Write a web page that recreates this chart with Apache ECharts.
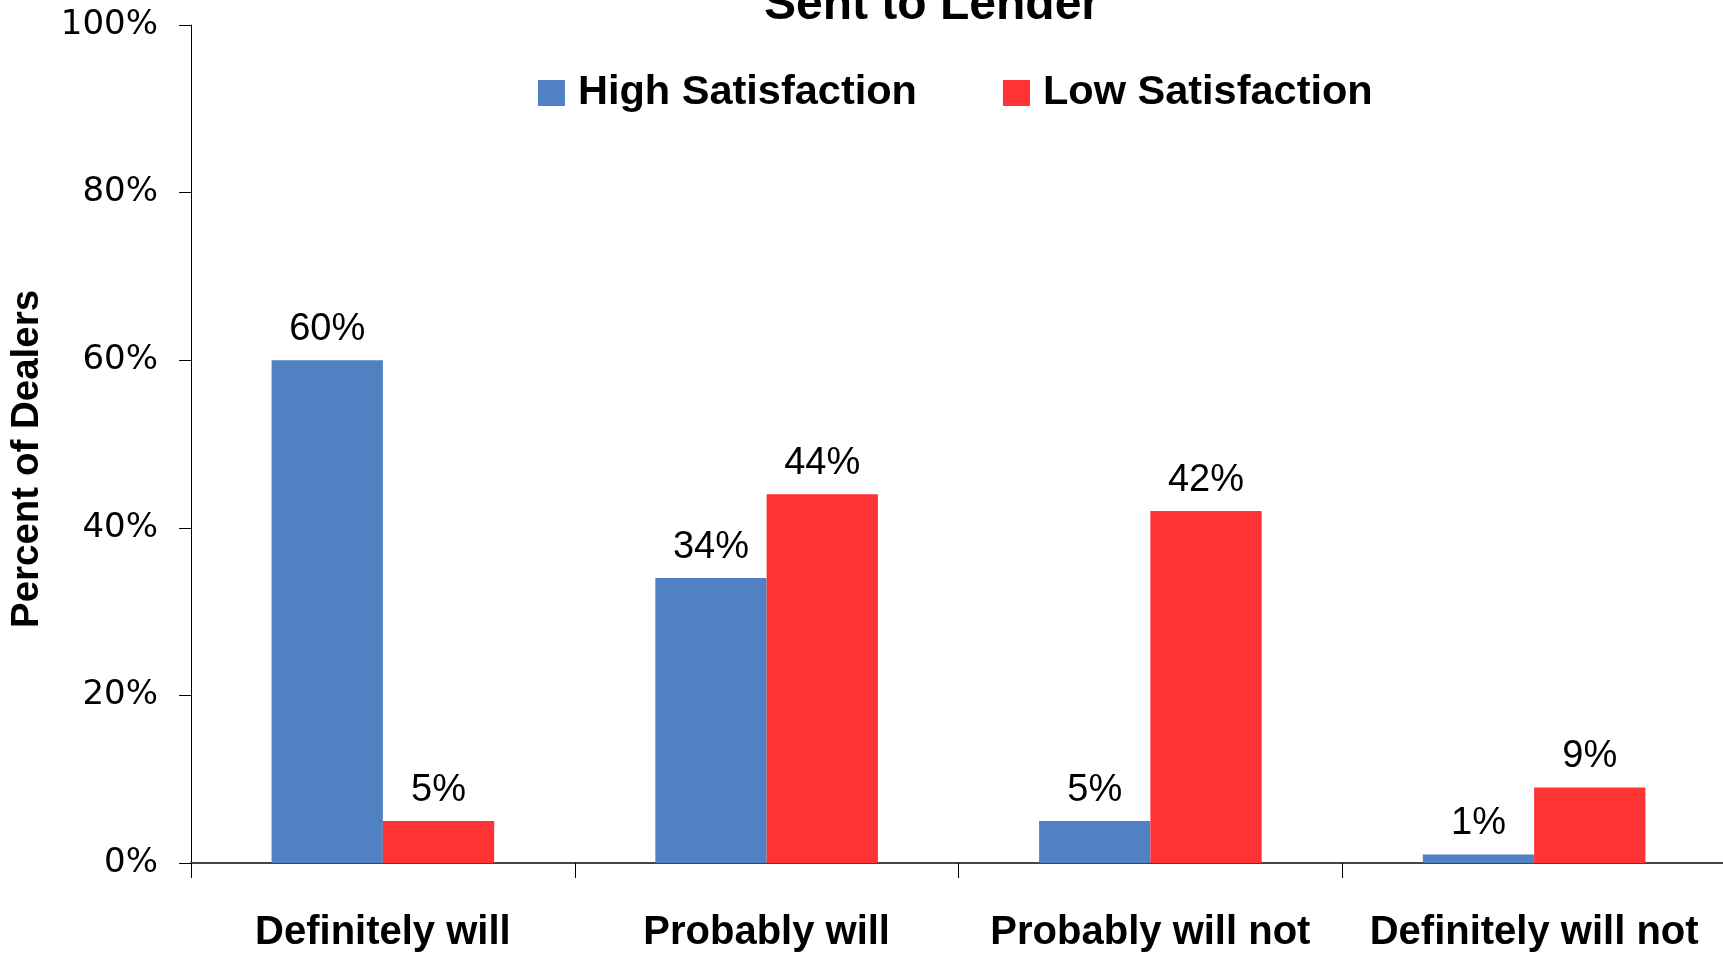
<!DOCTYPE html>
<html>
<head>
<meta charset="utf-8">
<style>
  html, body { margin: 0; padding: 0; background: #ffffff; }
  #chart { width: 1723px; height: 953px; }
</style>
<script src="https://cdn.jsdelivr.net/npm/echarts@6/dist/echarts.min.js"></script>
</head>
<body>
<div id="chart"></div>
<script>
// Response categories along the x axis
const categories = ['Definitely will', 'Probably will', 'Probably will not', 'Definitely will not'];
// Share of dealers (%) per satisfaction group
const highSatisfaction = [60, 34, 5, 1];
const lowSatisfaction = [5, 44, 42, 9];
// Y axis range and step (%)
const yMin = 0, yMax = 100, yStep = 20;

const chart = echarts.init(document.getElementById('chart'), null, { renderer: 'canvas' });

const labelStyle = {
  show: true,
  position: 'top',
  distance: 12,
  formatter: p => p.value + '%',
  fontFamily: 'Liberation Sans, Arial, sans-serif',
  fontSize: 38,
  color: '#000000'
};

chart.setOption({
  backgroundColor: '#ffffff',
  animation: false,
  title: {
    text: 'Sent to Lender',
    left: 927,
    top: -23,
    textAlign: 'center',
    textStyle: {
      fontFamily: 'Liberation Sans, Arial, sans-serif',
      fontWeight: 'bold',
      fontSize: 48,
      lineHeight: 48,
      color: '#000000'
    }
  },
  legend: {
    left: 533,
    top: 67,
    itemWidth: 27,
    itemHeight: 26,
    itemGap: 86,
    icon: 'rect',
    textStyle: {
      fontFamily: 'Liberation Sans, Arial, sans-serif',
      fontWeight: 'bold',
      fontSize: 41.5,
      color: '#000000',
      padding: [0, 0, 0, 8]
    },
    data: ['High Satisfaction', 'Low Satisfaction']
  },
  grid: {
    left: 191,
    right: -3,
    top: 25,
    bottom: 90,
    containLabel: false,
    outerBoundsMode: 'none'
  },
  xAxis: {
    type: 'category',
    data: categories,
    axisLine: { show: true, lineStyle: { color: '#444444', width: 2 } },
    axisTick: { show: true, alignWithLabel: false, length: 15, lineStyle: { color: '#000000', width: 1 } },
    axisLabel: {
      margin: 50,
      fontFamily: 'Liberation Sans, Arial, sans-serif',
      fontWeight: 'bold',
      fontSize: 40,
      color: '#000000',
      interval: 0
    },
    splitLine: { show: false }
  },
  yAxis: {
    type: 'value',
    min: yMin,
    max: yMax,
    interval: yStep,
    name: 'Percent of Dealers',
    nameLocation: 'middle',
    nameGap: 144,
    nameTextStyle: {
      fontFamily: 'Liberation Sans, Arial, sans-serif',
      fontWeight: 'bold',
      fontSize: 38.5,
      color: '#000000',
      padding: [0, 30, 0, 0]
    },
    axisLine: { show: true, lineStyle: { color: '#000000', width: 1 } },
    axisTick: { show: true, inside: false, length: 12, lineStyle: { color: '#000000', width: 1 } },
    axisLabel: {
      margin: 33,
      formatter: v => v + '%',
      fontFamily: 'DejaVu Sans, Verdana, sans-serif',
      fontSize: 34,
      color: '#000000'
    },
    splitLine: { show: false }
  },
  series: [
    {
      name: 'High Satisfaction',
      type: 'bar',
      data: highSatisfaction,
      barGap: '0%',
      barCategoryGap: '42%',
      itemStyle: { color: '#4F81C3' },
      label: labelStyle
    },
    {
      name: 'Low Satisfaction',
      type: 'bar',
      data: lowSatisfaction,
      barGap: '0%',
      barCategoryGap: '42%',
      itemStyle: { color: '#FF3333' },
      label: labelStyle
    }
  ]
});
</script>
</body>
</html>
